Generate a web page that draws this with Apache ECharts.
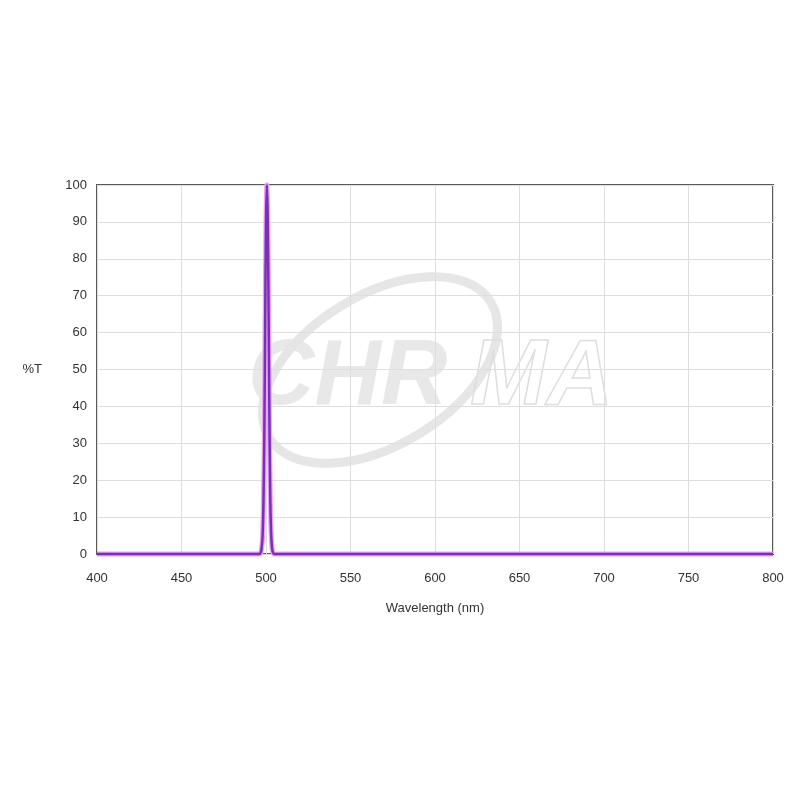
<!DOCTYPE html>
<html>
<head>
<meta charset="utf-8">
<script src="https://cdn.jsdelivr.net/npm/echarts@6/dist/echarts.min.js"></script>
<style>html,body{margin:0;padding:0;background:#fff;}#c{width:800px;height:800px;}</style>
</head>
<body>
<div id="c"></div>
<script>
const wavelengths = [400, 496, 497, 497.5, 498, 498.5, 499, 499.5, 500, 500.5, 501, 501.5, 502, 502.5, 503, 503.5, 504, 505, 800];
const transmission = [0, 0, 0.5, 2, 5, 14, 32, 62, 90, 100, 92, 68, 38, 16, 6, 2, 0.5, 0, 0];
const xTicks = [400, 450, 500, 550, 600, 650, 700, 750, 800];
const yTicks = [0, 10, 20, 30, 40, 50, 60, 70, 80, 90, 100];
const xTitle = 'Wavelength (nm)';
const yTitle = '%T';
const watermarkLeft = 'CHR';
const watermarkRight = 'MA';

const chart = echarts.init(document.getElementById('c'), null, {renderer: 'canvas'});
const font = 'Liberation Sans, Arial, sans-serif';
chart.setOption({
  animation: false,
  backgroundColor: '#ffffff',
  grid: {left: 97, top: 185, right: 27, bottom: 246, show: true, borderColor: '#5a5a5a', borderWidth: 2, backgroundColor: 'transparent'},
  xAxis: {
    type: 'value', min: xTicks[0], max: xTicks[xTicks.length - 1], interval: 50,
    axisLine: {show: false}, axisTick: {show: false},
    splitLine: {show: true, lineStyle: {color: '#dedede', width: 1}},
    axisLabel: {color: '#333', fontFamily: font, fontSize: 13, margin: 18},
    name: xTitle, nameLocation: 'middle', nameGap: 48,
    nameTextStyle: {color: '#333', fontFamily: font, fontSize: 13}
  },
  yAxis: {
    type: 'value', min: yTicks[0], max: yTicks[yTicks.length - 1], interval: 10,
    axisLine: {show: false}, axisTick: {show: false},
    splitLine: {show: true, lineStyle: {color: '#dedede', width: 1}},
    axisLabel: {color: '#333', fontFamily: font, fontSize: 13, margin: 10},
    name: yTitle, nameLocation: 'middle', nameGap: 55, nameRotate: 0,
    nameTextStyle: {color: '#333', fontFamily: font, fontSize: 13}
  },
  graphic: [
    {type: 'group', z: 1, silent: true, children: [
      {type: 'ellipse', shape: {cx: 380, cy: 370, rx: 130, ry: 75}, rotation: 0.55, originX: 380, originY: 370,
       style: {fill: 'none', stroke: '#e6e6e6', lineWidth: 9}},
      {type: 'text', x: 248, y: 333, style: {text: watermarkLeft, font: 'italic bold 92px Liberation Sans', fill: '#e4e4e4', opacity: 0.85}},
      {type: 'text', x: 470, y: 333, style: {text: watermarkRight, font: 'italic bold 92px Liberation Sans', fill: 'none', stroke: '#dedede', lineWidth: 1.5}}
    ]}
  ],
  series: [
    {type: 'line', data: wavelengths.map((w, i) => [w, transmission[i]]), showSymbol: false, smooth: 0.3, z: 3,
     lineStyle: {color: '#e9a3f0', width: 5}, clip: false},
    {type: 'line', data: wavelengths.map((w, i) => [w, transmission[i]]), showSymbol: false, smooth: 0.3, z: 4,
     lineStyle: {color: '#7a2fb8', width: 2.5}, clip: false}
  ]
});
</script>
</body>
</html>
